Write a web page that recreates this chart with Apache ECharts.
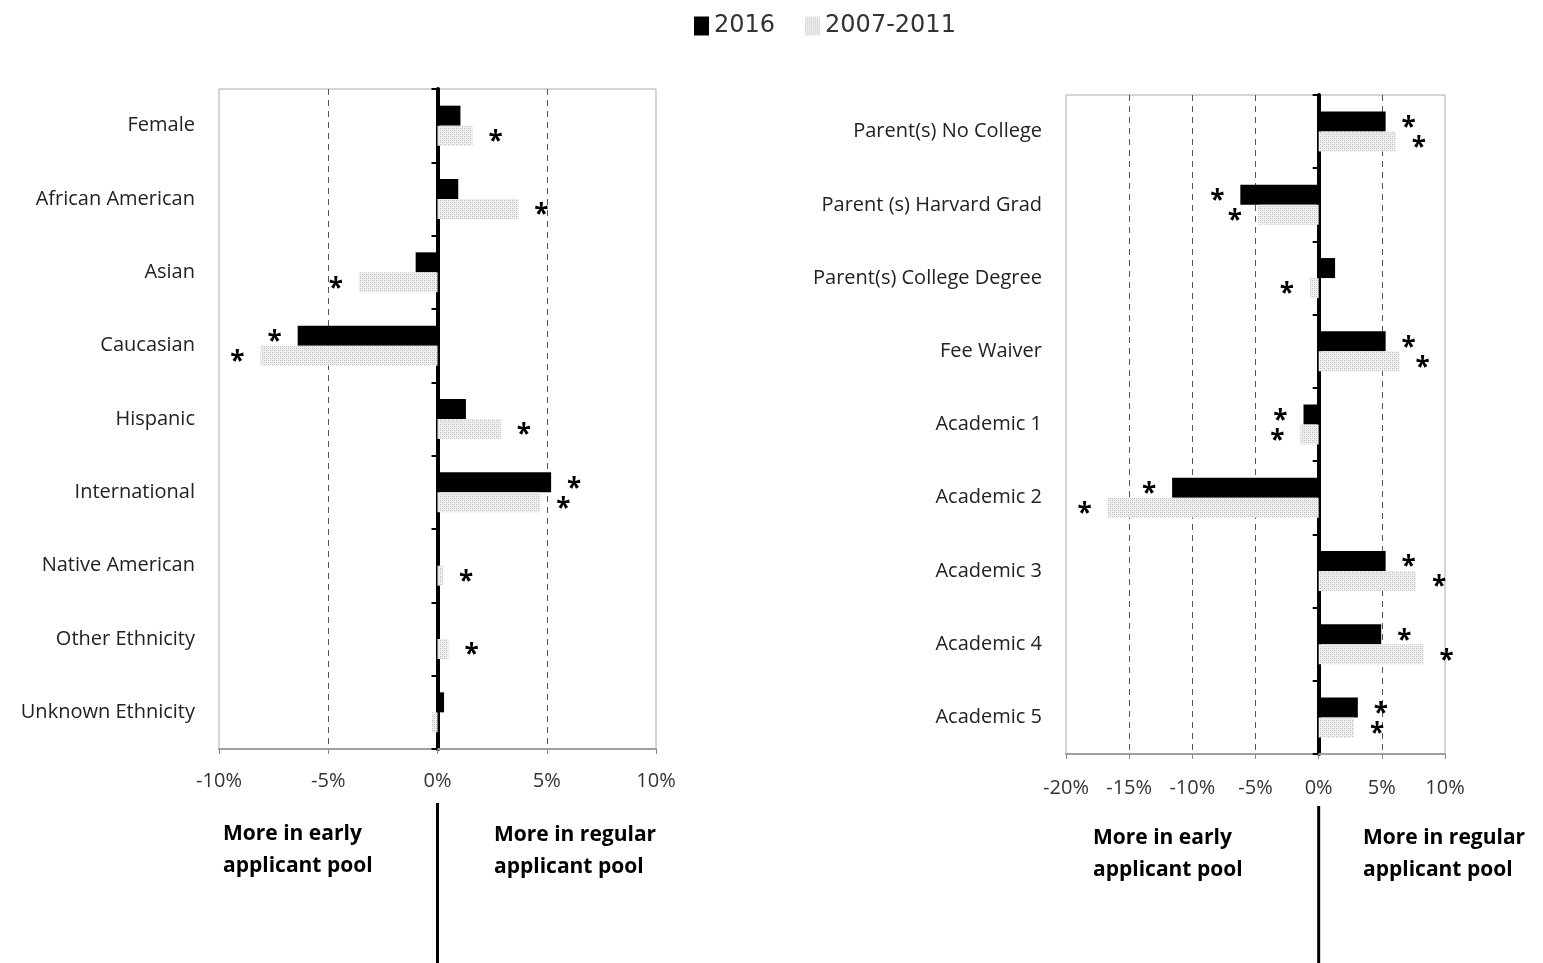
<!DOCTYPE html>
<html>
<head>
<meta charset="utf-8">
<script src="https://cdn.jsdelivr.net/npm/echarts@6/dist/echarts.min.js"></script>
<style>
html, body { margin: 0; padding: 0; background: #fff; }
#main { width: 1543px; height: 963px; }
</style>
</head>
<body>
<div id="main"></div>
<script>
// 左图：性别/族裔
var leftCats = ['Female', 'African American', 'Asian', 'Caucasian', 'Hispanic', 'International', 'Native American', 'Other Ethnicity', 'Unknown Ethnicity'];
var left2016 = [1.05, 0.95, -1.0, -6.4, 1.3, 5.2, 0, 0, 0.3];
var left0711 = [1.6, 3.7, -3.6, -8.1, 2.9, 4.7, 0.25, 0.5, -0.25];
var leftSig2016 = [0, 0, 0, 1, 0, 1, 0, 0, 0];
var leftSig0711 = [1, 1, 1, 1, 1, 1, 1, 1, 0];

// 右图：家庭背景/学业
var rightCats = ['Parent(s) No College', 'Parent (s) Harvard Grad', 'Parent(s) College Degree', 'Fee Waiver', 'Academic 1', 'Academic 2', 'Academic 3', 'Academic 4', 'Academic 5'];
var right2016 = [5.3, -6.2, 1.3, 5.3, -1.2, -11.6, 5.3, 4.95, 3.1];
var right0711 = [6.1, -4.8, -0.7, 6.4, -1.45, -16.7, 7.7, 8.3, 2.8];
var rightSig2016 = [1, 1, 0, 1, 1, 1, 1, 1, 1];
var rightSig0711 = [1, 1, 1, 1, 1, 1, 1, 1, 1];

var seriesNames = ['2016', '2007-2011'];
var leftTicks = { min: -10, max: 10, interval: 5 };
var rightTicks = { min: -20, max: 10, interval: 5 };
var earlyText = 'More in early\napplicant pool';
var regularText = 'More in regular\napplicant pool';

var FONT = '"Open Sans", "Noto Sans", sans-serif';

// 灰色点状填充
var pat = document.createElement('canvas');
pat.width = 4; pat.height = 4;
var pctx = pat.getContext('2d');
pctx.fillStyle = '#eeeeee';
pctx.fillRect(0, 0, 4, 4);
pctx.fillStyle = '#bdbdbd';
pctx.fillRect(0, 0, 1, 1);
pctx.fillRect(2, 2, 1, 1);
pctx.fillStyle = '#d6d6d6';
pctx.fillRect(2, 0, 1, 1);
pctx.fillRect(0, 2, 1, 1);
var grayFill = { image: pat, repeat: 'repeat' };

function barData(values, sig) {
	return values.map(function(v, i) {
		return {
			value: v,
			label: {
				show: !!sig[i],
				position: v < 0 ? 'left' : 'right'
			}
		};
	});
}

var starLabel = {
	formatter: '*',
	fontSize: 26,
	fontWeight: 'bold',
	fontFamily: FONT,
	color: '#000',
	distance: 16,
	offset: [0, 7]
};

function makeGrid(idx) {
	return [{
		type: 'bar',
		name: seriesNames[0],
		xAxisIndex: idx, yAxisIndex: idx * 2,
		barWidth: 20, barGap: '0%',
		itemStyle: { color: '#000' },
		label: starLabel
	}, {
		type: 'bar',
		name: seriesNames[1],
		xAxisIndex: idx, yAxisIndex: idx * 2,
		barWidth: 20, barGap: '0%',
		itemStyle: { color: grayFill },
		label: starLabel
	}];
}

function xAxisCfg(idx, t, margin) {
	return {
		type: 'value', gridIndex: idx,
		min: t.min, max: t.max, interval: t.interval,
		axisLine: { show: true, onZero: false, lineStyle: { color: '#a0a0a0', width: 2 } },
		axisTick: { show: true, length: 5, lineStyle: { color: '#888' } },
		axisLabel: {
			formatter: function(v) { return v + '%'; },
			fontSize: 20, fontFamily: FONT, color: '#333', margin: margin
		},
		splitLine: {
			show: true, showMinLine: false, showMaxLine: false,
			lineStyle: { type: [6, 5], color: '#555', width: 1 }
		}
	};
}

function yAxesCfg(idx, cats) {
	return [{
		type: 'category', gridIndex: idx, data: cats, inverse: true,
		axisLine: { show: false, onZero: false },
		axisTick: { show: false },
		axisLabel: { fontSize: 20, fontFamily: FONT, color: '#222', margin: 24 },
		splitLine: { show: false }
	}, {
		// 0% 粗线 + 分类刻度
		type: 'category', gridIndex: idx, data: cats, inverse: true,
		position: 'left',
		axisLine: { show: true, onZero: true, lineStyle: { color: '#000', width: 4 } },
		axisTick: { show: true, length: 6, lineStyle: { color: '#000', width: 2 } },
		axisLabel: { show: false },
		splitLine: { show: false }
	}];
}

var myChart = echarts.init(document.getElementById('main'));

var series = makeGrid(0).concat(makeGrid(1));
series[0].data = barData(left2016, leftSig2016);
series[1].data = barData(left0711, leftSig0711);
series[2].data = barData(right2016, rightSig2016);
series[3].data = barData(right0711, rightSig0711);

var option = {
	backgroundColor: '#ffffff',
	animation: false,
	legend: {
		top: 9, left: 689,
		data: seriesNames,
		icon: 'rect',
		itemWidth: 15, itemHeight: 19, itemGap: 30,
		textStyle: { fontSize: 24, fontFamily: '"DejaVu Sans", sans-serif', color: '#333' }
	},
	grid: [
		{ left: 219, right: 887, top: 89, bottom: 214, show: true, borderColor: '#aaa', borderWidth: 1 },
		{ left: 1066, right: 98, top: 95, bottom: 209, show: true, borderColor: '#aaa', borderWidth: 1 }
	],
	xAxis: [xAxisCfg(0, leftTicks, 22), xAxisCfg(1, rightTicks, 24)],
	yAxis: yAxesCfg(0, leftCats).concat(yAxesCfg(1, rightCats)),
	series: series
};
myChart.setOption(option);

// 底部说明文字与分隔线
var x0L = myChart.convertToPixel({ xAxisIndex: 0 }, 0);
var x0R = myChart.convertToPixel({ xAxisIndex: 1 }, 0);
var noteStyle = { fontSize: 21, fontWeight: 'bold', fontFamily: FONT, fill: '#000', lineHeight: 32 };
function note(x, y, text) {
	return { type: 'text', left: x, top: y, style: Object.assign({ text: text }, noteStyle) };
}
myChart.setOption({
	graphic: [
		{ type: 'line', shape: { x1: x0L, y1: 803, x2: x0L, y2: 963 }, style: { stroke: '#000', lineWidth: 3 } },
		{ type: 'line', shape: { x1: x0R, y1: 806, x2: x0R, y2: 963 }, style: { stroke: '#000', lineWidth: 3 } },
		note(223, 818, earlyText),
		note(494, 819, regularText),
		note(1093, 822, earlyText),
		note(1363, 822, regularText)
	]
});

window.addEventListener('resize', function() {
	myChart.resize();
});
</script>
</body>
</html>
